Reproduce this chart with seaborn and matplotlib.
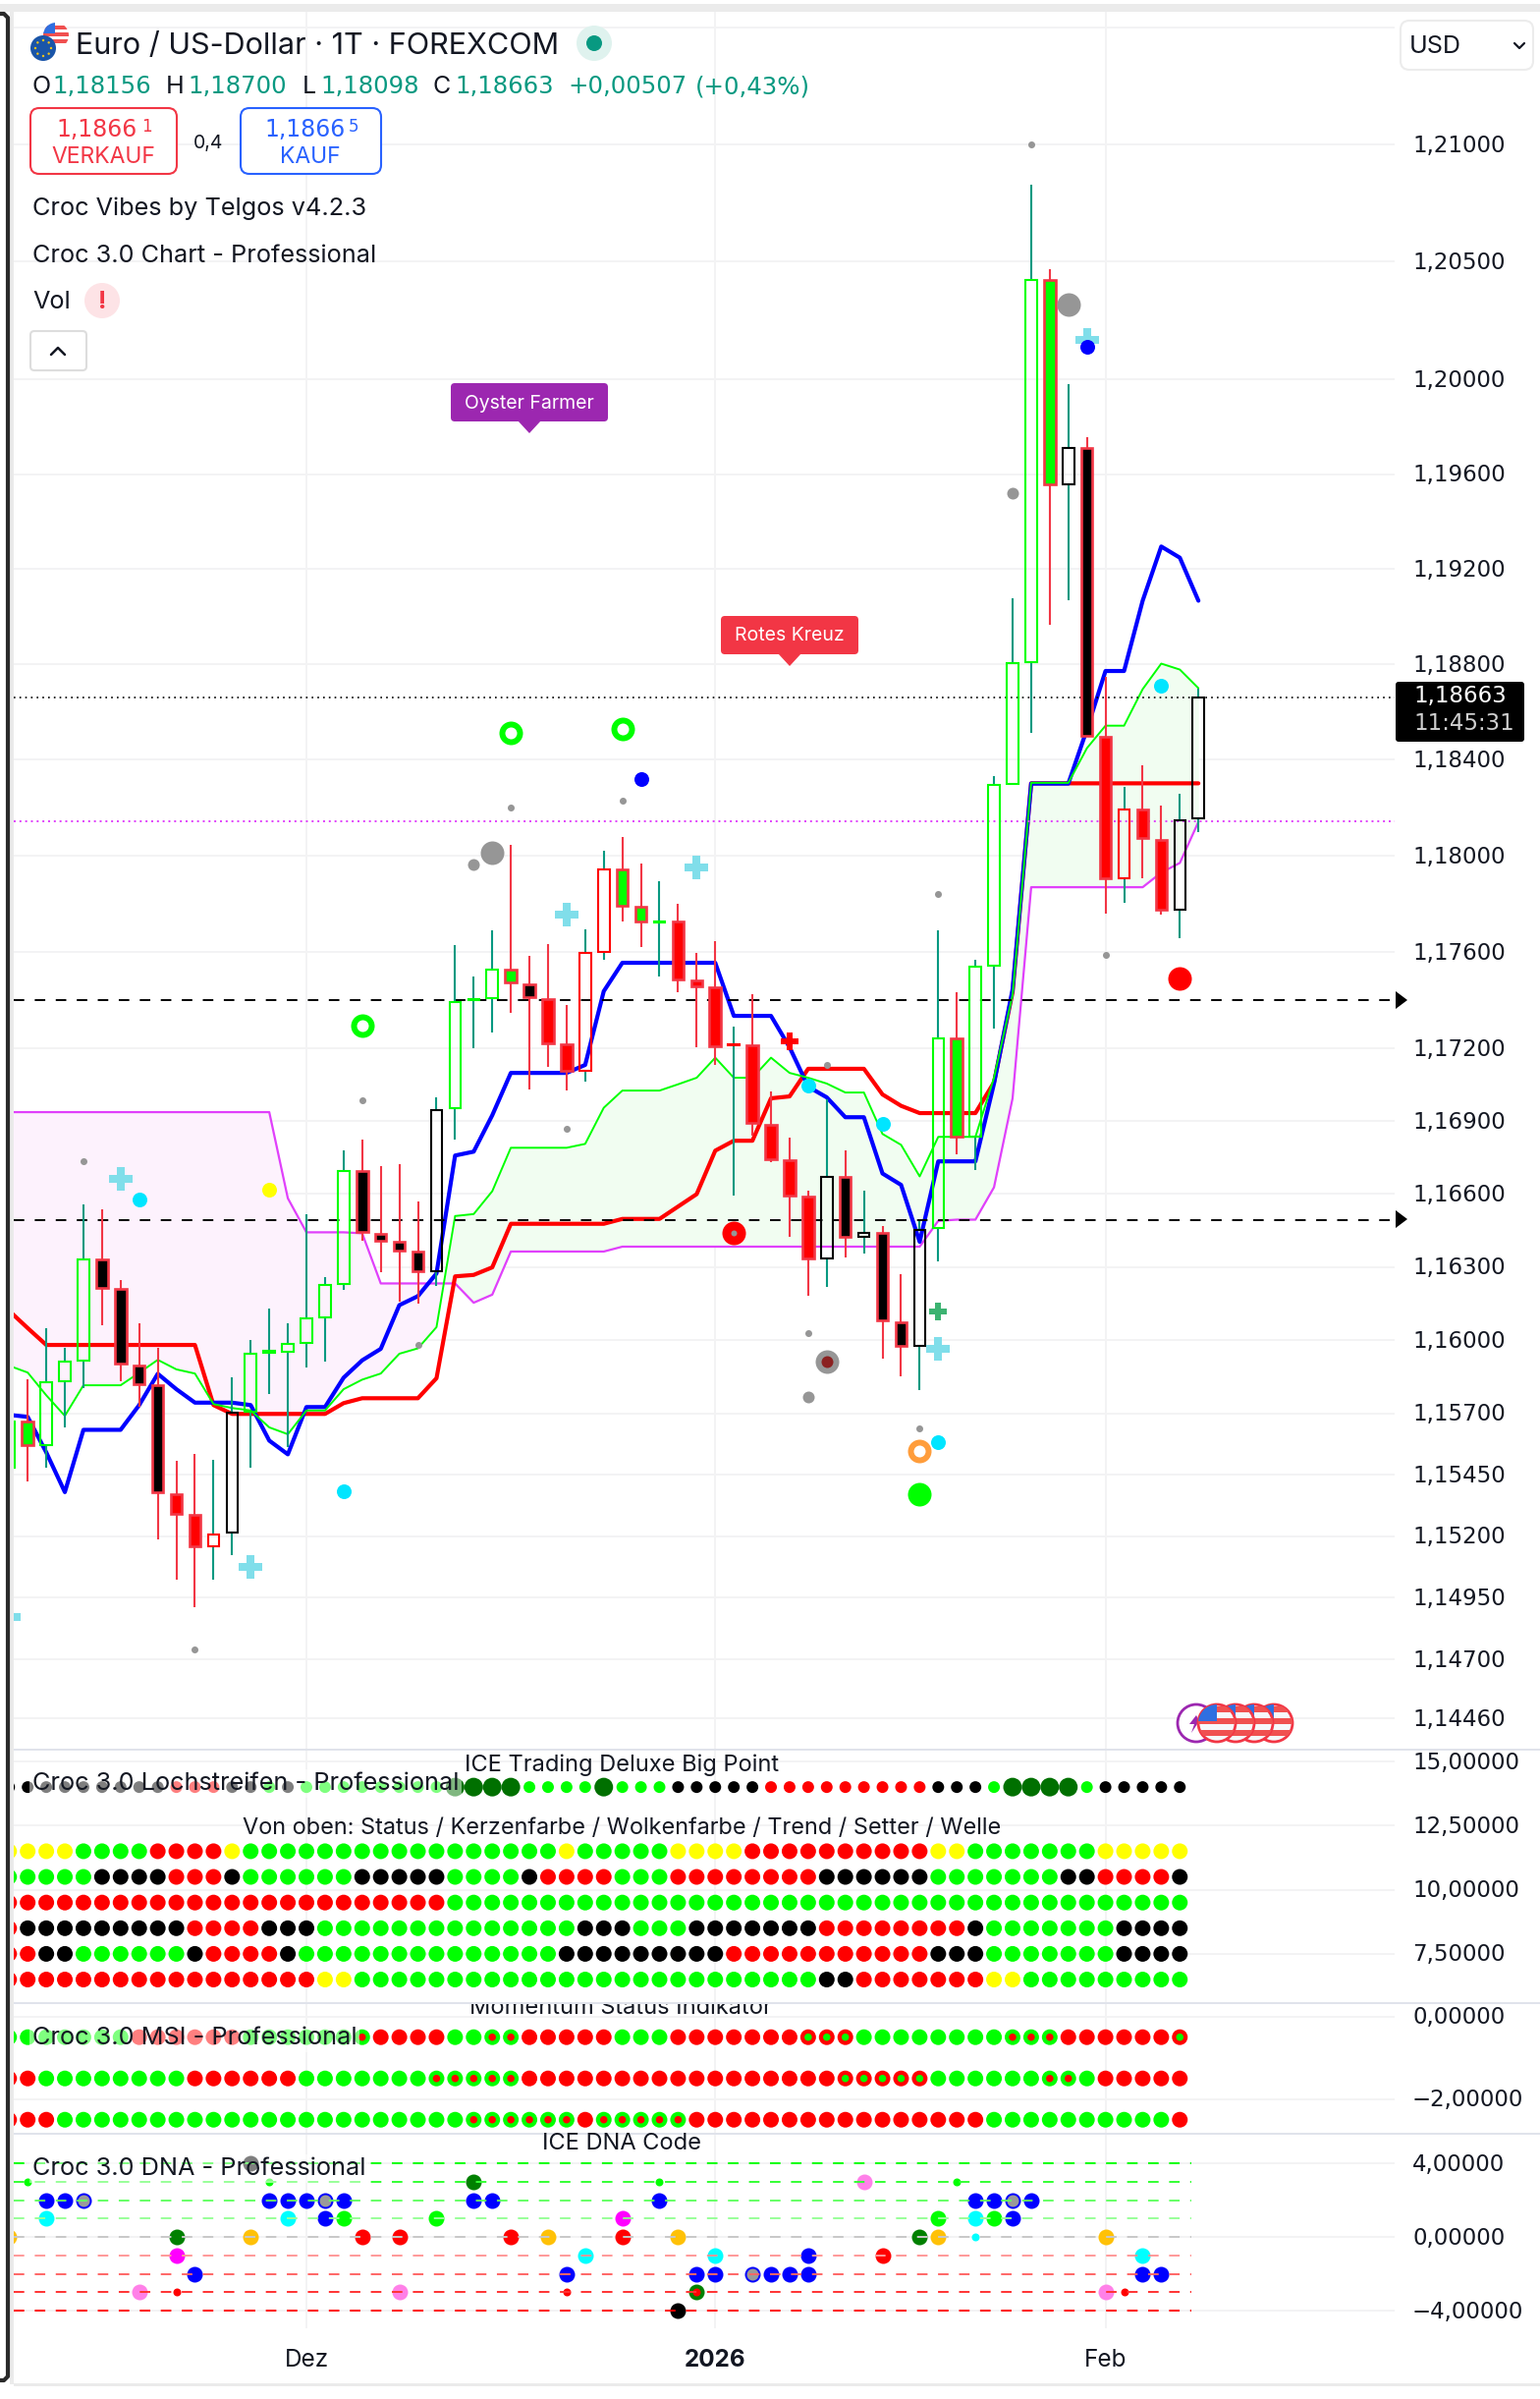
import numpy as np
import pandas as pd
import matplotlib
matplotlib.use("Agg")
import matplotlib.pyplot as plt
from matplotlib.patches import Circle, FancyBboxPatch, Polygon, Rectangle
from matplotlib.transforms import ScaledTranslation
import seaborn as sns

sns.set_theme(style="white")
plt.rcParams['font.family'] = ['Inter', 'DejaVu Sans']

# bars are numbered from the first of December
bars = list(range(-16, 49))

opens = [1.15478, 1.15665, 1.15569, 1.15831, 1.15915, 1.16330, 1.16208, 1.15897, 1.15815, 1.15371, 1.15287, 1.15160, 1.15214,
         1.15706, 1.15950, 1.15952, 1.15988, 1.16094, 1.16228, 1.16696, 1.16436, 1.16403, 1.16363, 1.16281, 1.16953, 1.17399,
         1.17409, 1.17527, 1.17466, 1.17405, 1.17217, 1.17108, 1.17600, 1.17942, 1.17787, 1.17724, 1.17726, 1.17480, 1.17453,
         1.17215, 1.17213, 1.16884, 1.16737, 1.16591, 1.16334, 1.16668, 1.16424, 1.16440, 1.16074, 1.15976, 1.16460, 1.17242,
         1.16835, 1.17543, 1.18300, 1.18811, 1.20423, 1.19558, 1.19710, 1.18498, 1.17907, 1.18192, 1.18066, 1.17775, 1.18156]
highs = [1.15782, 1.15839, 1.16049, 1.15968, 1.16558, 1.16538, 1.16245, 1.16070, 1.15968, 1.15508, 1.15533, 1.15512, 1.15848,
         1.16002, 1.16131, 1.16070, 1.16517, 1.16257, 1.16778, 1.16823, 1.16714, 1.16721, 1.16570, 1.16998, 1.17628, 1.17498,
         1.17690, 1.18044, 1.17582, 1.17633, 1.17380, 1.17694, 1.18019, 1.18080, 1.17966, 1.17893, 1.17799, 1.17596, 1.17645,
         1.17291, 1.17425, 1.17022, 1.16831, 1.16615, 1.16989, 1.16778, 1.16615, 1.16469, 1.16269, 1.16489, 1.17690, 1.17433,
         1.17567, 1.18333, 1.19079, 1.20829, 1.20469, 1.19980, 1.19756, 1.18749, 1.18286, 1.18379, 1.18211, 1.18259, 1.18700]
lows = [1.15420, 1.15424, 1.15480, 1.15641, 1.15803, 1.16062, 1.15831, 1.15726, 1.15186, 1.15023, 1.14912, 1.15023, 1.15124,
        1.15480, 1.15778, 1.15563, 1.15887, 1.15911, 1.16206, 1.16409, 1.16277, 1.16159, 1.16151, 1.16220, 1.16823, 1.17201,
        1.17268, 1.17349, 1.17030, 1.17124, 1.17026, 1.17065, 1.17567, 1.17726, 1.17620, 1.17498, 1.17433, 1.17205, 1.17132,
        1.16595, 1.16839, 1.16729, 1.16424, 1.16180, 1.16216, 1.16340, 1.16353, 1.15925, 1.15853, 1.15795, 1.16322, 1.16762,
        1.16698, 1.17283, 1.18300, 1.18511, 1.18964, 1.19071, 1.18502, 1.17759, 1.17804, 1.17907, 1.17755, 1.17657, 1.18098]
closes = [1.15665, 1.15569, 1.15827, 1.15911, 1.16330, 1.16212, 1.15903, 1.15819, 1.15377, 1.15291, 1.15160, 1.15208, 1.15702,
          1.15944, 1.15955, 1.15984, 1.16090, 1.16224, 1.16696, 1.16442, 1.16407, 1.16367, 1.16281, 1.16947, 1.17392, 1.17403,
          1.17527, 1.17472, 1.17413, 1.17221, 1.17108, 1.17596, 1.17942, 1.17791, 1.17726, 1.17728, 1.17484, 1.17458, 1.17209,
          1.17219, 1.16892, 1.16741, 1.16595, 1.16334, 1.16668, 1.16424, 1.16440, 1.16082, 1.15976, 1.16452, 1.17242, 1.16835,
          1.17539, 1.18296, 1.18805, 1.20423, 1.19558, 1.19710, 1.18502, 1.17907, 1.18192, 1.18072, 1.17775, 1.18149, 1.18663]
candle_state = "H L HHH KKKK RR O W HHHHHH KKKK W HHH L K RR OO LL H RRR O RRRR W K W KK W H L HHHH L W K R O RR WW".replace(" ", "")

tenkan = [1.15694, 1.15686, 1.15541, 1.15379, 1.15633, 1.15633, 1.15633, 1.15734, 1.15862, 1.15799, 1.15744, 1.15744, 1.15744,
          1.15734, 1.15589, 1.15533, 1.15726, 1.15726, 1.15846, 1.15917, 1.15964, 1.16143, 1.16180, 1.16273, 1.16758, 1.16774,
          1.16924, 1.17099, 1.17099, 1.17099, 1.17099, 1.17132, 1.17437, 1.17555, 1.17555, 1.17555, 1.17555, 1.17555, 1.17555,
          1.17335, 1.17335, 1.17335, 1.17205, 1.17042, 1.16998, 1.16916, 1.16916, 1.16684, 1.16637, 1.16403, 1.16734, 1.16734,
          1.16734, 1.17055, 1.17445, 1.18301, 1.18301, 1.18301, 1.18527, 1.18772, 1.18772, 1.19067, 1.19295, 1.19248, 1.19067]
kijun = [1.16120, 1.16049, 1.15980, 1.15980, 1.15980, 1.15980, 1.15980, 1.15980, 1.15980, 1.15980, 1.15980, 1.15734, 1.15698,
         1.15698, 1.15698, 1.15698, 1.15698, 1.15698, 1.15742, 1.15762, 1.15762, 1.15762, 1.15762, 1.15844, 1.16261, 1.16267,
         1.16298, 1.16477, 1.16477, 1.16477, 1.16477, 1.16477, 1.16477, 1.16497, 1.16497, 1.16497, 1.16548, 1.16599, 1.16778,
         1.16819, 1.16819, 1.16994, 1.17002, 1.17116, 1.17116, 1.17116, 1.17116, 1.17010, 1.16963, 1.16933, 1.16933, 1.16933,
         1.16933, 1.17060, 1.17433, 1.18302, 1.18302, 1.18302, 1.18302, 1.18302, 1.18302, 1.18302, 1.18302, 1.18302, 1.18302]
span_a = [1.15895, 1.15867, 1.15774, 1.15690, 1.15815, 1.15815, 1.15815, 1.15866, 1.15919, 1.15880, 1.15863, 1.15738, 1.15722,
          1.15712, 1.15643, 1.15615, 1.15712, 1.15712, 1.15799, 1.15838, 1.15863, 1.15944, 1.15966, 1.16053, 1.16509, 1.16517,
          1.16611, 1.16790, 1.16790, 1.16790, 1.16790, 1.16806, 1.16955, 1.17026, 1.17026, 1.17026, 1.17052, 1.17079, 1.17162,
          1.17079, 1.17079, 1.17162, 1.17099, 1.17079, 1.17055, 1.17018, 1.17018, 1.16847, 1.16802, 1.16672, 1.16835, 1.16835,
          1.16835, 1.17079, 1.17421, 1.18304, 1.18304, 1.18304, 1.18449, 1.18543, 1.18543, 1.18696, 1.18803, 1.18778, 1.18700]
span_b = [1.16937, 1.16937, 1.16937, 1.16937, 1.16937, 1.16937, 1.16937, 1.16937, 1.16937, 1.16937, 1.16937, 1.16937, 1.16937,
          1.16937, 1.16937, 1.16582, 1.16442, 1.16442, 1.16442, 1.16438, 1.16232, 1.16232, 1.16232, 1.16232, 1.16232, 1.16153,
          1.16186, 1.16363, 1.16363, 1.16363, 1.16363, 1.16363, 1.16363, 1.16383, 1.16383, 1.16383, 1.16383, 1.16383, 1.16383,
          1.16383, 1.16383, 1.16383, 1.16383, 1.16383, 1.16383, 1.16383, 1.16383, 1.16383, 1.16383, 1.16383, 1.16489, 1.16494,
          1.16494, 1.16627, 1.16994, 1.17869, 1.17869, 1.17869, 1.17869, 1.17869, 1.17869, 1.17869, 1.17930, 1.17970, 1.18141]

price_ticks = [1.215, 1.21, 1.205, 1.2, 1.196, 1.192, 1.188, 1.184, 1.18, 1.176, 1.172, 1.169, 1.166, 1.163, 1.16, 1.157,
               1.1545, 1.152, 1.1495, 1.147, 1.1446]
price_labels = ["", "1,21000", "1,20500", "1,20000", "1,19600", "1,19200", "1,18800", "1,18400", "1,18000", "1,17600", "1,17200",
                "1,16900", "1,16600", "1,16300", "1,16000", "1,15700", "1,15450", "1,15200", "1,14950", "1,14700", "1,14460"]
date_ticks = [0, 22, 43]
date_labels = ["Dez", "2026", "Feb"]

level_upper = 1.17401
level_lower = 1.16491
last_price = 1.18663
bid_line = 1.18145

# signals on the price pane
small_gray_x = [-12, 3, 6, -6, 11, 17, 14, 28, 27, 33, 34, 39, 43]
small_gray_y = [1.16733, 1.16987, 1.15980, 1.14741, 1.18202, 1.18231, 1.16867, 1.17132, 1.16027, 1.15639, 1.17840, 1.20999, 1.17589]
mid_gray_x = [9, 27, 38]
mid_gray_y = [1.17962, 1.15766, 1.19520]
big_gray_x = [10, 41, 28]
big_gray_y = [1.18011, 1.20318, 1.15912]
plus_x = [-16, -10, -3, 14, 21, 34, 42]
plus_y = [1.14872, 1.16662, 1.15073, 1.17756, 1.17952, 1.15964, 1.20167]
cyan_x = [-9, 2, 27, 31, 34, 46]
cyan_y = [1.16576, 1.15384, 1.17048, 1.16888, 1.15581, 1.18712]
blue_x = [18, 42]
blue_y = [1.18318, 1.20138]
ring_x = [3, 11, 17]
ring_y = [1.17295, 1.18513, 1.18531]

# dot rows below the price, one letter per bar
big_point = "KKKKKKKKK RRR KK G K GGGGGGGG DDDD GGGG D GGG KKKKK RRRRRRRRR KKK G DDDD G KKKKK".replace(" ", "")
status = "YYYY GGGG RRRR Y GGGGGGGGGGGGGGGGG Y GGGGG YYYY RRRRRRRRRR YY GGGGGGG YYYYY".replace(" ", "")
kerze = "GGGGG KKKK RRR K GGGGGG KKKKK GGGG K RRRR GGG RRRRRRRR KKKKKK GGGGGGG KK RRRR K".replace(" ", "")
wolke = "RRRRRRRRRRRRRRRRRRRRRRRR GGGGGGGGGGGGGGGGGGGGGGGGGGGGGGGGGGGGGGGG".replace(" ", "")
trend = "R KKKKKKKKK RRRR KKK GGGGGGGGGGGGGG KKK GGG KKKKKKK RRRRRRRR K GGGGGGG KKKK".replace(" ", "")
setter = "RR KK GGGGGG K RRRR K GGGGGGGGGGGGGG KKKKKKKKK RRRRRRRRRRR KKK GGGGGGG KKKK".replace(" ", "")
welle = "RRRRRRRRRRRRRRRRR YY GGGGGGGGGGGGGGGGGGGGGGGGG KK RRRRRRR YY GGGGGGGGG".replace(" ", "")
msi_1 = "GGGGGGG RRRRRR GGGGGG g RRRR GG gg RRRRR GGG RRRRRRR rrr GGGGGGGG ggg RRRRRR r".replace(" ", "")
msi_2 = "RR GGGGGGGG RRRRRR GGGGGGG ggggg RRRRRRRRRRRRRRRRR rrrrr GGGGGG gg G RRRRR".replace(" ", "")
msi_3 = "RRR GGGGGGGGGGGGGGGGGGGGGG gggggg R ggggg RRRRRRRRRRRRRRRR GGGGGGGGGG R".replace(" ", "")

dna_blue_x = [-14, -13, -12, -2, -1, 0, 1, 2, 9, 10, 19, 36, 37, 38, 39, 1, 38, -6, 14, 21, 22, 24, 25, 26, 27, 45, 46, 27]
dna_blue_y = [2, 2, 2, 2, 2, 2, 2, 2, 2, 2, 2, 2, 2, 2, 2, 1, 1, -2, -2, -2, -2, -2, -2, -2, -2, -2, -2, -1]
dna_orange_x = [-16, -3, 13, 20, 34, 43]
dna_orange_y = [0, 0, 0, 0, 0, 0]
dna_cyan_x = [-14, -1, 15, 22, 36, 45]
dna_cyan_y = [1, 1, -1, -1, 1, -1]
dna_lime_x = [2, 7, 34, 37]
dna_lime_y = [1, 1, 1, 1]
dna_green_x = [-7, 9, 21, 33]
dna_green_y = [0, 3, -3, 0]
dna_magenta_x = [-7, 17]
dna_magenta_y = [-1, 1]
dna_pink_x = [-9, 5, 30, 43]
dna_pink_y = [-3, -3, 3, -3]
dna_red_x = [3, 5, 11, 17, 31]
dna_red_y = [0, 0, 0, 0, -1]
dna_black_x = [-3, 20]
dna_black_y = [4, -4]
dna_small_lime_x = [-15, -2, 19, 35]
dna_small_lime_y = [3, 3, 3, 3]
dna_small_red_x = [-7, 14, 21, 44]
dna_small_red_y = [-3, -3, -3, -3]
dna_gray_x = [-12, 1, 24, 38]
dna_gray_y = [2, 2, -2, 2]
dna_levels = [4, 3, 2, 1, 0, -1, -2, -3, -4]

TEAL = "#089981"
RED = "#f23645"
INK = "#131722"
GRID = "#f3f3f4"
LIME = "#00ff00"
PURE_RED = "#ff0000"
NUMBERS = "DejaVu Sans"  # even digit widths like the platform's price scale
X_MIN, X_MAX = -15.75, 58.56

fig = plt.figure(figsize=(15.68, 24.42), dpi=100, facecolor="white")


def pane(top, bottom):
    ax = fig.add_axes([14 / 1568, 1 - bottom / 2442, 1406 / 1568, (bottom - top) / 2442])
    sns.despine(ax=ax, left=True, bottom=True)
    ax.set_facecolor("none")
    ax.set_xlim(X_MIN, X_MAX)
    ax.yaxis.tick_right()
    ax.tick_params(axis="y", length=0, pad=13, labelsize=16.5, labelcolor=INK, labelfontfamily=NUMBERS)
    ax.tick_params(axis="x", length=0, labelbottom=False)
    ax.set_xticks(date_ticks)
    ax.grid(True, color=GRID, linewidth=1.4)
    ax.set_axisbelow(True)
    return ax


def mark(ax, xs, ys, color, px, marker="o", z=7):
    sns.scatterplot(x=xs, y=ys, color=color, s=(px * 0.72) ** 2, marker=marker, linewidth=0,
                    ax=ax, zorder=z, legend=False)


def lift_labels(ax):
    for tl in ax.get_yticklabels():
        tl.set_transform(tl.get_transform() + ScaledTranslation(0, 0.015, fig.dpi_scale_trans))


# price pane
ax = pane(12, 1780)
x = np.array(bars, dtype=float)
ax.fill_between(x, span_a, span_b, where=np.array(span_a) >= np.array(span_b), interpolate=True,
                color="#f1fdf1", linewidth=0, zorder=1)
ax.fill_between(x, span_a, span_b, where=np.array(span_a) <= np.array(span_b), interpolate=True,
                color="#fdf2fd", linewidth=0, zorder=1)
sns.lineplot(x=bars, y=span_b, color="#e040fb", linewidth=1.6, ax=ax, zorder=2)
sns.lineplot(x=bars, y=kijun, color=PURE_RED, linewidth=3.0, ax=ax, zorder=3)
sns.lineplot(x=bars, y=tenkan, color="#0000ff", linewidth=3.0, ax=ax, zorder=3)
sns.lineplot(x=bars, y=span_a, color=LIME, linewidth=1.4, ax=ax, zorder=3)

ax.axhline(level_upper, color="black", linewidth=1.4, linestyle=(0, (5.5, 5.5)), zorder=3)
ax.axhline(level_lower, color="black", linewidth=1.4, linestyle=(0, (5.5, 5.5)), zorder=3)
ax.axhline(last_price, color="black", linewidth=1.2, linestyle=(0, (1, 2.5)), zorder=3)
ax.axhline(bid_line, color="#e040fb", linewidth=1.4, linestyle=(0, (1, 2)), zorder=3)

candle_face = {"H": "none", "K": "black", "L": LIME, "R": PURE_RED, "W": "none", "O": "none"}
candle_edge = {"H": LIME, "K": RED, "L": RED, "R": RED, "W": "black", "O": PURE_RED}
for bar, o, h, l, c, st in zip(bars, opens, highs, lows, closes, candle_state):
    top, low_side = max(o, c), min(o, c)
    wick = TEAL if c > o else RED
    ax.vlines(bar, top, h, color=wick, linewidth=1.5, zorder=4)
    ax.vlines(bar, l, low_side, color=wick, linewidth=1.5, zorder=4)
    ax.bar(bar, top - low_side, bottom=low_side, width=0.61, facecolor=candle_face[st],
           edgecolor=candle_edge[st], linewidth=1.9 if st in "KLR" else 1.5, zorder=5)

mark(ax, small_gray_x, small_gray_y, "#969696", 7)
mark(ax, mid_gray_x, mid_gray_y, "#969696", 12)
mark(ax, big_gray_x, big_gray_y, "#969696", 24)
mark(ax, [28], [1.15912], "#8b2020", 12, z=8)
mark(ax, [23], [1.16438], PURE_RED, 24)
mark(ax, [23], [1.16438], "#969696", 6, z=8)
mark(ax, plus_x, plus_y, "#80deea", 24, marker="P")
mark(ax, [34], [1.16119], "#3cb371", 18, marker="P")
mark(ax, [26], [1.17230], PURE_RED, 18, marker="P")
mark(ax, cyan_x, cyan_y, "#00e5ff", 15)
mark(ax, [-2], [1.16619], "#ffff00", 15)
mark(ax, blue_x, blue_y, "#0000ff", 15, z=8)
mark(ax, ring_x, ring_y, LIME, 24)
mark(ax, ring_x, ring_y, "white", 12, z=8)
mark(ax, [33], [1.15546], "#ff9d3b", 24)
mark(ax, [33], [1.15546], "white", 12, z=8)
mark(ax, [33], [1.15371], LIME, 24)
mark(ax, [47], [1.17491], PURE_RED, 24)

ax.set_yscale("log")
ax.set_ylim(1.14339, 1.21568)
ax.set_yticks(price_ticks, labels=price_labels)
ax.minorticks_off()
ax.set_xlim(X_MIN, X_MAX)
ax.set_xlabel("")
ax.set_ylabel("")
lift_labels(ax)

# dot rows
palette = {"G": LIME, "R": PURE_RED, "K": "black", "Y": "#ffff00", "D": "#007000", "g": LIME, "r": PURE_RED}
dot_bars = bars[:-1]
ax2 = pane(1781, 2038)
point_df = pd.DataFrame({"bar": dot_bars, "state": list(big_point), "level": 14.0})
sns.scatterplot(data=point_df[point_df.state != "D"], x="bar", y="level", hue="state", palette=palette,
                s=(12 * 0.72) ** 2, linewidth=0, legend=False, ax=ax2, zorder=4)
sns.scatterplot(data=point_df[point_df.state == "D"], x="bar", y="level", hue="state", palette=palette,
                s=(19 * 0.72) ** 2, linewidth=0, legend=False, ax=ax2, zorder=4)
rows = [(status, 11.5), (kerze, 10.5), (wolke, 9.5), (trend, 8.5), (setter, 7.5), (welle, 6.5)]
row_df = pd.concat([pd.DataFrame({"bar": dot_bars, "state": list(r), "level": lv}) for r, lv in rows])
sns.scatterplot(data=row_df, x="bar", y="level", hue="state", palette=palette,
                s=(16 * 0.72) ** 2, linewidth=0, legend=False, ax=ax2, zorder=4)
ax2.set_xlim(X_MIN, X_MAX)
ax2.set_ylim(5.62, 15.46)
ax2.set_yticks([15, 12.5, 10, 7.5], labels=["15,00000", "12,50000", "10,00000", "7,50000"])
ax2.set_xlabel("")
ax2.set_ylabel("")
lift_labels(ax2)

ax3 = pane(2039, 2172)
rows = [(msi_1, -0.5), (msi_2, -1.5), (msi_3, -2.5)]
msi_df = pd.concat([pd.DataFrame({"bar": dot_bars, "state": list(r), "level": lv}) for r, lv in rows])
sns.scatterplot(data=msi_df, x="bar", y="level", hue="state", palette=palette,
                s=(16 * 0.72) ** 2, linewidth=0, legend=False, ax=ax3, zorder=4)
inner = msi_df[msi_df.state.isin(["g", "r"])].copy()
inner["inner"] = inner.state.map({"g": "R", "r": "G"})
sns.scatterplot(data=inner, x="bar", y="level", hue="inner", palette=palette,
                s=(7.5 * 0.72) ** 2, linewidth=0, legend=False, ax=ax3, zorder=5)
ax3.set_xlim(X_MIN, X_MAX)
ax3.set_ylim(-2.84, 0.326)
ax3.set_yticks([0, -2], labels=["0,00000", "\u22122,00000"])
ax3.set_xlabel("")
ax3.set_ylabel("")
lift_labels(ax3)

ax4 = pane(2173, 2370)
mark(ax4, dna_blue_x, dna_blue_y, "#0000ff", 16, z=3)
mark(ax4, dna_gray_x, dna_gray_y, "#9a9a9a", 12, z=3.1)
mark(ax4, dna_orange_x, dna_orange_y, "#ffc107", 16, z=3)
mark(ax4, dna_cyan_x, dna_cyan_y, "#00ffff", 16, z=3)
mark(ax4, dna_lime_x, dna_lime_y, LIME, 16, z=3)
mark(ax4, dna_green_x, dna_green_y, "#008000", 16, z=3)
mark(ax4, dna_magenta_x, dna_magenta_y, "#ff00ff", 16, z=3)
mark(ax4, dna_pink_x, dna_pink_y, "#ff80e8", 16, z=3)
mark(ax4, dna_red_x, dna_red_y, PURE_RED, 16, z=3)
mark(ax4, dna_black_x, dna_black_y, "black", 16, z=3)
mark(ax4, dna_small_lime_x, dna_small_lime_y, LIME, 8, z=3)
mark(ax4, dna_small_red_x, dna_small_red_y, PURE_RED, 8, z=3.2)
mark(ax4, [36], [0], "#00ffff", 8, z=3)
dna_colors = ["#00ff00", "#33ff33", "#66ff66", "#99ff99", "#c8c8c8", "#ff9999", "#ff6666", "#ff3333", "#ff0000"]
for lv, col in zip(dna_levels, dna_colors):
    ax4.hlines(lv, X_MIN, 47.6, color=col, linewidth=1.4, linestyle=(0, (5.5, 5.5)), zorder=4)
ax4.set_xlim(X_MIN, X_MAX)
ax4.set_ylim(-4.96, 5.547)
ax4.set_yticks([4, 0, -4], labels=["4,00000", "0,00000", "\u22124,00000"])
ax4.tick_params(axis="x", labelbottom=True, pad=15, labelsize=17.5, labelcolor=INK)
ax4.set_xticks(date_ticks, labels=date_labels)
ax4.get_xticklabels()[1].set_fontweight("bold")
ax4.set_xlabel("")
ax4.set_ylabel("")
lift_labels(ax4)

# pixel overlay for the TradingView furniture
ov = fig.add_axes([0, 0, 1, 1], zorder=10)
ov.set_xlim(0, 1568)
ov.set_ylim(2442, 0)
ov.axis("off")
ov.patch.set_alpha(0)

ov.add_patch(Rectangle((0, 4), 1568, 8, color="#ebebeb", linewidth=0))
ov.add_patch(Rectangle((10, 12), 4, 2415, color="#ebebeb", linewidth=0))
ov.plot([0, 4, 8, 8, 4, 0], [14, 14, 18, 2419, 2423, 2423], color="#2a2a2a", linewidth=3.0)
ov.add_patch(Rectangle((14, 2426), 1554, 3, color="#ebebeb", linewidth=0))
for sep in (1781, 2039, 2172):
    ov.add_patch(Rectangle((14, sep - 1), 1554, 2, color="#e0e3eb", linewidth=0))


def label(px, py, txt, size=18.2, color=INK, **kw):
    kw.setdefault("va", "center")
    return ov.text(px, py + 3.5, txt, fontsize=size, color=color, **kw)


# symbol icon
us = Circle((57, 36), 13, color="white", linewidth=0)
ov.add_patch(us)
for sy in (26, 33, 40):
    stripe = Rectangle((44, sy), 28, 4, color="#f05050", linewidth=0)
    ov.add_patch(stripe)
    stripe.set_clip_path(us)
canton = Rectangle((44, 23), 12, 11, color="#2f6fe0", linewidth=0)
ov.add_patch(canton)
canton.set_clip_path(us)
ov.add_patch(Circle((44, 49), 13, color="#1a55a8", linewidth=0))
for ang in np.deg2rad(np.arange(0, 360, 45)):
    ov.add_patch(Circle((44 + 8 * np.cos(ang), 49 + 8 * np.sin(ang)), 1.2, color="#f5c518", linewidth=0))

label(77, 44, "Euro / US-Dollar \u00b7 1T \u00b7 FOREXCOM", size=22)
ov.add_patch(Circle((605, 44), 18, color="#dff2ee", linewidth=0))
ov.add_patch(Circle((605, 44), 8, color=TEAL, linewidth=0))

for px, txt, col in [(32, "O", INK), (169, "H", INK), (308, "L", INK), (441, "C", INK)]:
    label(px, 85, txt, size=18, color=col)
for px, txt in [(53, "1,18156"), (191, "1,18700"), (326, "1,18098"), (463, "1,18663"),
                (578, "+0,00507"), (708, "(+0,43%)")]:
    label(px, 85, txt, size=17.6, color=TEAL, family=NUMBERS)

ov.add_patch(FancyBboxPatch((31, 110), 149, 67, boxstyle="round,pad=0,rounding_size=9", fc="white", ec=RED, lw=1.5))
ov.add_patch(FancyBboxPatch((245, 110), 143, 67, boxstyle="round,pad=0,rounding_size=9", fc="white", ec="#2962ff", lw=1.5))
label(57, 129, "1,1866", size=17, color=RED, family=NUMBERS)
label(144, 125, "1", size=12, color=RED, family=NUMBERS)
label(105, 156, "VERKAUF", size=16.5, color=RED, ha="center")
label(197, 142, "0,4", size=14)
label(269, 129, "1,1866", size=17, color="#2962ff", family=NUMBERS)
label(355, 125, "5", size=12, color="#2962ff", family=NUMBERS)
label(316, 156, "KAUF", size=16.5, color="#2962ff", ha="center")

label(33, 209, "Croc Vibes by Telgos v4.2.3")
label(33, 257, "Croc 3.0 Chart - Professional")
label(33, 304, "Vol")
ov.add_patch(Circle((104, 306), 18, color="#fde3e6", linewidth=0))
label(104, 304, "!", size=18, color=RED, ha="center", fontweight="bold")
ov.add_patch(FancyBboxPatch((31, 337), 57, 40, boxstyle="round,pad=0,rounding_size=4", fc="white", ec="#dddddd", lw=1.5))
ov.plot([52, 59, 66], [361, 354, 361], color=INK, linewidth=1.8)

ov.add_patch(FancyBboxPatch((1426, 21), 135, 50, boxstyle="round,pad=0,rounding_size=9", fc="white", ec="#ececec", lw=1.5))
label(1435, 44, "USD", size=18)
ov.plot([1542, 1547, 1552], [44, 49, 44], color=INK, linewidth=1.6)

# pills
ov.add_patch(FancyBboxPatch((459, 390), 160, 39, boxstyle="round,pad=0,rounding_size=4", color="#9c27b0", linewidth=0))
ov.add_patch(Polygon([(527, 428), (551, 428), (539, 441)], color="#9c27b0", linewidth=0))
label(539, 407, "Oyster Farmer", size=14, color="white", ha="center")
ov.add_patch(FancyBboxPatch((734, 627), 140, 39, boxstyle="round,pad=0,rounding_size=4", color=RED, linewidth=0))
ov.add_patch(Polygon([(792, 665), (816, 665), (804, 678)], color=RED, linewidth=0))
label(804, 644, "Rotes Kreuz", size=14, color="white", ha="center")

# price badge and pointers
ov.add_patch(FancyBboxPatch((1421, 694), 131, 61, boxstyle="round,pad=0,rounding_size=3", color="black", linewidth=0))
label(1439, 705, "1,18663", size=16.5, color="white", family=NUMBERS)
label(1439, 733, "11:45:31", size=16.5, color="#cfcfcf", family=NUMBERS)
for py in (1018, 1241):
    ov.add_patch(Polygon([(1421, py - 9), (1433, py), (1421, py + 9)], color="black", linewidth=0))

# session flags at the bottom of the price pane
ov.add_patch(Circle((1218, 1754), 19, fc="white", ec="#9c27b0", lw=2))
ov.add_patch(Polygon([(1218, 1746), (1211, 1755), (1216, 1755), (1213, 1764), (1221, 1752)], color="#9c27b0", linewidth=0))
for cx in (1297, 1277, 1258, 1239):
    ring = Circle((cx, 1754), 19, fc="#f6f8fb", ec=RED, lw=2)
    ov.add_patch(ring)
    for sy in (1737, 1749, 1761):
        stripe = Rectangle((cx - 19, sy), 38, 6, color="#f05050", linewidth=0)
        ov.add_patch(stripe)
        stripe.set_clip_path(ring)
    canton = Rectangle((cx - 19, 1735), 19, 17, color="#2f6fe0", linewidth=0)
    ov.add_patch(canton)
    canton.set_clip_path(ring)

# pane captions, the half transparent backgrounds fade the dots below them
faded = dict(facecolor="white", alpha=0.5, edgecolor="none", pad=2)
label(33, 1812, "Croc 3.0 Lochstreifen - Professional", bbox=faded)
label(633, 1793, "ICE Trading Deluxe Big Point", size=17, ha="center")
label(633, 1857, "Von oben: Status / Kerzenfarbe / Wolkenfarbe / Trend / Setter / Welle", size=16.9, ha="center")
cut = label(632, 2041, "Momentum Status Indikator", size=17, ha="center", clip_on=True)
cut.set_clip_path(Rectangle((0, 2040), 1568, 400, transform=ov.transData))
label(33, 2071, "Croc 3.0 MSI - Professional", bbox=faded)
label(633, 2179, "ICE DNA Code", size=17, ha="center")
label(33, 2204, "Croc 3.0 DNA - Professional", bbox=faded)

fig.savefig("out.png", dpi=100, facecolor="white")
